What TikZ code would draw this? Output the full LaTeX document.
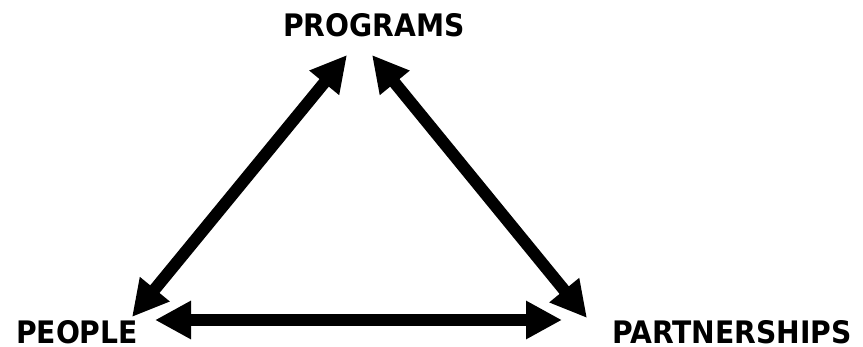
\documentclass[tikz,border=0pt]{standalone}
\usepackage{fontspec}
\setmainfont{DejaVu Sans}
\usetikzlibrary{arrows.meta}
\begin{document}
\begin{tikzpicture}[x=1pt,y=-1pt,
  lbl/.style={font=\bfseries\fontsize{31}{31}\selectfont, inner sep=0pt, anchor=base},
  conn/.style={line width=12pt, {Triangle[length=36pt,width=36pt]}-{Triangle[length=36pt,width=36pt]}}]
\useasboundingbox (0,0) rectangle (863,347);
\node[lbl] (programs) at (374,37) {\scalebox{0.91}[1]{PROGRAMS}};
\node[lbl] (people) at (77,343.5) {\scalebox{0.91}[1]{PEOPLE}};
\node[lbl] (partnerships) at (732,343.5) {\scalebox{0.91}[1]{PARTNERSHIPS}};
\coordinate (pgL) at (347,55);
\coordinate (pgR) at (372,55);
\coordinate (peD) at (132,317);
\coordinate (peH) at (155,320);
\coordinate (paD) at (587,318);
\coordinate (paH) at (562,320);
\draw[conn] (pgL) -- (peD);
\draw[conn] (pgR) -- (paD);
\draw[conn] (peH) -- (paH);
\end{tikzpicture}
\end{document}
